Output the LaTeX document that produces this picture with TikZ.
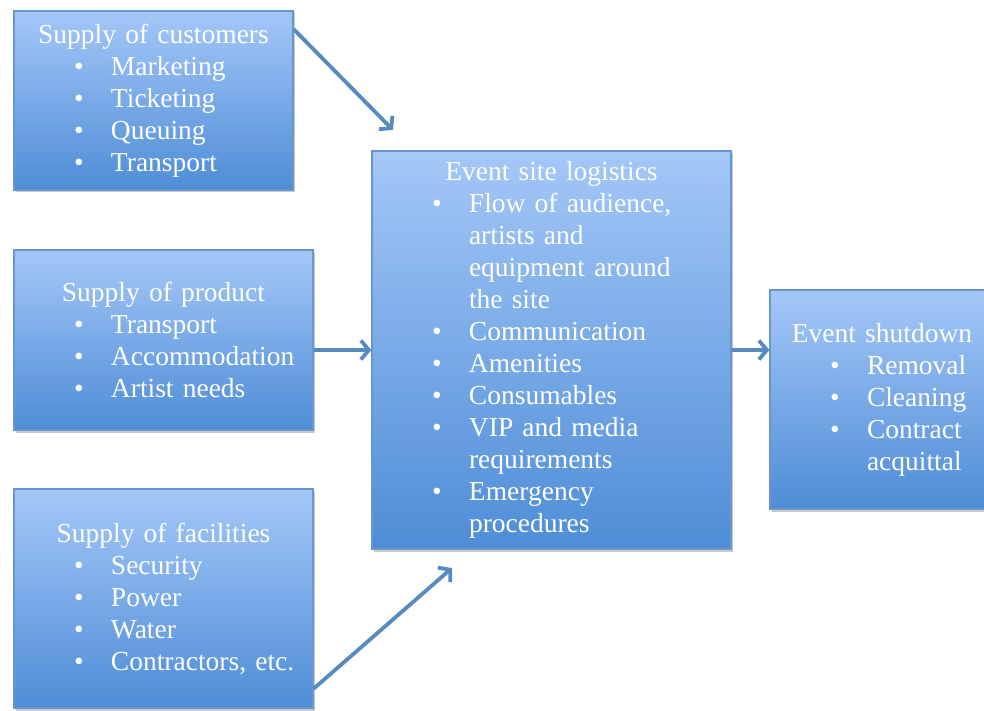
\documentclass[tikz,border=0pt]{standalone}
\usepackage{fontspec}
\setmainfont{Liberation Serif}
\usetikzlibrary{arrows.meta,shadows}
\definecolor{boxtop}{RGB}{164,199,248}
\definecolor{boxbot}{RGB}{78,141,214}
\definecolor{boxedge}{RGB}{104,150,206}
\definecolor{arrowc}{RGB}{88,138,194}
\newcommand{\boxtitle}[1]{\makebox[\linewidth]{#1}\par\leftskip=97pt}
\newcommand{\bitem}[1]{\noindent\llap{\makebox[37pt][l]{\textbullet}}#1\par}

\begin{document}
\begin{tikzpicture}[x=1pt,y=1pt,
	stage/.style={draw=boxedge,line width=1.2pt,top color=boxtop,bottom color=boxbot,
		drop shadow={shadow xshift=2pt,shadow yshift=-2.5pt,opacity=.3,fill=black!70},
		inner sep=0pt,text=white,text width=#1,minimum width=#1,align=left,
		font=\fontsize{27.5}{32}\selectfont},
	flow/.style={draw=arrowc,line width=3.8pt,-{Straight Barb[length=8pt,width=19pt]}}]

	\useasboundingbox (0,0) rectangle (984,-711);

	\node[stage=279pt,minimum height=179pt] (cust) at (153.5,-100.5)
		{\boxtitle{Supply of customers}\bitem{Marketing}\bitem{Ticketing}\bitem{Queuing}\bitem{Transport}};
	\node[stage=299pt,minimum height=180pt] (prod) at (163.5,-340)
		{\boxtitle{Supply of product}\bitem{Transport}\bitem{Accommodation}\bitem{Artist needs}};
	\node[stage=299pt,minimum height=219pt] (fac) at (163.5,-598.5)
		{\boxtitle{Supply of facilities}\bitem{Security}\bitem{Power}\bitem{Water}\bitem{Contractors, etc.}};
	\node[stage=359pt,minimum height=398pt] (site) at (551.5,-350)
		{\boxtitle{Event site logistics}\bitem{Flow of audience,\\artists and\\equipment around\\the site}
		\bitem{Communication}\bitem{Amenities}\bitem{Consumables}\bitem{VIP and media\\requirements}
		\bitem{Emergency\\procedures}};
	\node[stage=224pt,minimum height=219pt] (shut) at (882,-399.5)
		{\boxtitle{Event shutdown}\bitem{Removal}\bitem{Cleaning}\bitem{Contract\\acquittal}};

	\coordinate (custend) at (393,-130);
	\coordinate (facend) at (452,-568);

	\draw[flow] (cust.27) -- (custend);
	\draw[flow] (prod.east |- site) -- (site.west);
	\draw[flow] (fac.-31) -- (facend);
	\draw[flow] (site.east) -- (shut.west |- site);

\end{tikzpicture}
\end{document}
